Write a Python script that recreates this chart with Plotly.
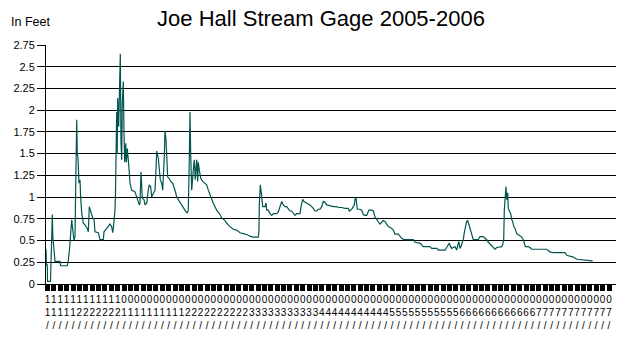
import plotly.graph_objects as go
import datetime as dt

# Reading number (category position along the axis) and gage height in feet
reading = [0, 0.25, 0.65, 0.75, 2.25, 2.4, 2.85, 3.15, 3.4, 3.75, 4.5, 7.0, 7.25, 10.65, 11.15, 11.75,
           12.25, 12.85, 13.25, 14.0, 14.5, 15.0, 15.35, 15.65, 16.0, 16.5, 17.0, 17.35, 17.85, 18.65,
           19.5, 20.65, 21.15, 21.65, 22.5, 23.35, 24.0, 24.5, 26.15, 27.0, 28.65, 29.0, 30.35, 32.0,
           32.85, 33.35, 33.65, 34.5, 34.75, 35.0, 35.35, 35.6, 35.85, 36.35, 36.65, 37.15, 37.5, 37.85,
           38.15, 38.65, 39.0, 39.35, 39.85, 40.15, 40.65, 41.15, 41.5, 42.0, 42.85, 44.5, 45.35, 46.65,
           47.0, 47.5, 48.15, 49.0, 49.5, 50.35, 51.15, 51.65, 52.35, 52.85, 53.65, 54.5, 55.0, 55.35,
           56.15, 56.65, 57.15, 57.85, 58.35, 59.15, 59.5, 60.0, 60.35, 60.85, 61.65, 62.35, 63.35, 64.0,
           64.85, 65.35, 66.65, 67.85, 69.0, 70.0, 70.65, 71.15, 71.65, 72.0, 72.35, 72.85, 73.65, 74.15,
           74.65, 75.35, 75.85, 76.15, 76.65, 77.35, 78.35, 79.5, 80.35, 81.15, 82.0, 82.85, 83.65, 84.5,
           85.35, 87.0, 87.85, 89.5, 90.35, 92.0, 93.65, 95.35, 97.0, 98.65, 100.35, 102.0, 103.65,
           106.15, 106.5, 106.65, 107.15, 107.65, 108.0, 108.35, 109.5, 110.0, 110.35, 111.15, 112.0,
           112.85, 113.65, 115.35, 116.15, 117.0, 117.85, 118.65, 119.5, 120.35, 121.15, 122.0, 122.85,
           123.65, 124.5, 125.35, 127.0, 127.5, 128.35, 129.0, 130.35, 132.0, 133.65, 134.5, 135.35,
           136.15, 137.0, 137.85, 138.65, 139.5, 140.35, 142.0, 143.65, 145.35, 146.15, 147.85, 149.5,
           151.15, 151.65, 152.35, 153.15, 154.15, 154.5, 155.0, 155.35, 155.65, 157.0, 157.85, 158.65,
           159.5, 160.35, 161.5, 162.85, 163.65, 164.5, 165.35, 166.15, 167.0, 167.5, 168.15, 168.65,
           169.5, 170.35, 171.15, 172.0, 172.85, 173.65, 174.5, 176.15, 177.0, 177.85, 179.0, 183.65,
           184.5, 187.0, 188.65, 192.0, 192.85, 195.35, 196.15, 199.5, 200.35, 201.15, 201.65, 202.35,
           202.85, 203.65, 204.5, 205.35, 205.85, 206.35, 207.0, 207.5, 208.0, 208.65, 209.15, 209.65,
           210.35, 210.85, 211.35, 212.0, 212.85, 213.65, 216.15, 217.0, 218.65, 219.5, 220.35, 221.15,
           222.0, 222.85, 223.65, 224.5, 225.35, 227.85, 228.35, 228.85, 229.15, 229.65, 230.0, 230.35,
           230.85, 231.15, 231.65, 232.35, 232.85, 233.35, 233.65, 234.5, 235.35, 236.15, 237.0, 237.85,
           238.65, 239.15, 239.65, 241.15, 242.0, 242.85, 250.35, 251.15, 252.0, 253.65, 259.5, 260.35,
           262.85, 263.65, 265.35, 267.85, 269.5, 271.15, 273.35]

stage_ft = [0.40, 0.22, 0.22, 0.03, 0.03, 0.22, 0.50, 0.80, 0.55, 0.45, 0.26, 0.26, 0.21, 0.21, 0.27, 0.40,
            0.60, 0.74, 0.65, 0.50, 0.55, 1.20, 1.89, 1.50, 1.45, 1.16, 1.20, 0.99, 0.82, 0.70,
            0.68, 0.64, 0.60, 0.89, 0.83, 0.76, 0.75, 0.60, 0.59, 0.51, 0.51, 0.60, 0.64, 0.69,
            0.66, 0.59, 0.64, 0.85, 1.06, 1.58, 1.98, 1.50, 2.14, 1.81, 2.19, 2.65, 1.62, 1.43,
            2.08, 2.33, 1.74, 1.40, 1.62, 1.40, 1.56, 1.35, 1.33, 1.16, 1.08, 1.06, 1.00, 0.91,
            0.93, 1.29, 0.99, 0.97, 0.91, 0.93, 1.08, 1.14, 1.12, 1.00, 1.04, 1.08, 1.31, 1.53,
            1.45, 1.31, 1.20, 1.16, 1.08, 1.46, 1.76, 1.66, 1.50, 1.23, 1.21, 1.18, 1.16, 1.12,
            1.05, 1.00, 0.95, 0.91, 0.87, 0.83, 0.82, 0.85, 1.43, 1.98, 1.50, 1.08, 1.31, 1.43,
            1.20, 1.43, 1.18, 1.40, 1.31, 1.22, 1.18, 1.16, 1.14, 1.08, 1.02, 0.97, 0.93, 0.89,
            0.85, 0.80, 0.76, 0.73, 0.70, 0.66, 0.63, 0.62, 0.59, 0.58, 0.57, 0.55, 0.54,
            0.54, 0.62, 0.91, 1.14, 1.05, 0.91, 0.89, 0.89, 0.93, 0.85, 0.85, 0.81,
            0.79, 0.81, 0.81, 0.83, 0.89, 0.95, 0.91, 0.89, 0.89, 0.86, 0.84, 0.84,
            0.81, 0.79, 0.81, 0.81, 0.89, 0.975, 0.95, 0.93, 0.91, 0.87, 0.84, 0.84,
            0.86, 0.86, 0.89, 0.95, 0.94, 0.91, 0.90, 0.89, 0.89, 0.88, 0.88, 0.87,
            0.87, 0.84, 0.85, 0.87, 0.91, 0.975, 0.99, 0.91, 0.86, 0.86, 0.85, 0.80,
            0.79, 0.79, 0.85, 0.85, 0.84, 0.77, 0.74, 0.72, 0.69, 0.70, 0.72, 0.73,
            0.72, 0.69, 0.66, 0.65, 0.64, 0.62, 0.575, 0.575, 0.55, 0.525, 0.51, 0.51,
            0.48, 0.47, 0.43, 0.43, 0.41, 0.41, 0.39, 0.39, 0.42, 0.45, 0.47, 0.43,
            0.41, 0.42, 0.43, 0.39, 0.43, 0.49, 0.41, 0.43, 0.47, 0.51, 0.59, 0.66,
            0.72, 0.73, 0.69, 0.66, 0.60, 0.51, 0.51, 0.545, 0.545, 0.53, 0.51, 0.48,
            0.46, 0.45, 0.43, 0.40, 0.42, 0.43, 0.45, 0.51, 0.85, 0.97, 1.12, 0.97,
            1.05, 0.87, 0.85, 0.81, 0.74, 0.72, 0.68, 0.64, 0.58, 0.565, 0.545, 0.54,
            0.51, 0.48, 0.43, 0.43, 0.42, 0.40, 0.40, 0.385, 0.37, 0.36, 0.36, 0.33,
            0.32, 0.31, 0.285, 0.28, 0.27, 0.265, 0.265]

# Category labels: number of labelled dates per month (Nov 2005 - Jul 2006)
label_months = [(2005, 11), (2005, 12), (2006, 1), (2006, 2), (2006, 3),
                (2006, 4), (2006, 5), (2006, 6), (2006, 7)]
labels_per_month = [5, 7, 10, 10, 11, 11, 11, 12, 12]
first_day = [16, 1, 1, 1, 1, 1, 1, 1, 1]

y_ticks = [0, 0.25, 0.5, 0.75, 1, 1.25, 1.5, 1.75, 2, 2.25, 2.5, 2.75]
y_tick_text = ["0", "0.25", "0.5", "0.75", "1", "1.25", "1.5", "1.75", "2", "2.25", "2.5", "2.75"]

tick_dates = []
for (yr, mo), n, d0 in zip(label_months, labels_per_month, first_day):
    span = 28 - d0
    for i in range(n):
        day = d0 + int(round(i * span / max(n - 1, 1)))
        tick_dates.append(dt.date(yr, mo, day).strftime("%m/%d/%y"))

n_ticks = len(tick_dates)
x_max = 285
t_first, t_last = 0.75, 281.5
tick_vals = [t_first + i * (t_last - t_first) / (n_ticks - 1) for i in range(n_ticks)]
# The stacked (vertical) labels only have room for their first three characters
tick_text = ["<br>".join(list(s[:3])) for s in tick_dates]

FONT = "Liberation Sans, Arial, sans-serif"

fig = go.Figure(go.Scatter(x=reading, y=stage_ft, mode="lines",
                           line=dict(color="#00554F", width=1.2), showlegend=False,
                           hoverinfo="skip"))

fig.update_layout(
    width=617, height=337,
    margin=dict(l=46, r=1, t=45, b=53),
    paper_bgcolor="white", plot_bgcolor="white",
    font=dict(family=FONT, color="black"),
    title=dict(text="Joe Hall Stream Gage 2005-2006", x=321 / 617, xanchor="center",
               y=1 - 18 / 337, yanchor="middle", yref="container",
               font=dict(size=22, family=FONT, color="black")),
    annotations=[dict(text="In Feet", xref="paper", yref="paper",
                      x=(9 - 46) / 570, y=(284 - 22) / 239, xanchor="left", yanchor="middle",
                      showarrow=False, font=dict(size=12.5, family=FONT, color="black"))],
)

fig.update_xaxes(range=[0, x_max], tickmode="array", tickvals=tick_vals, ticktext=tick_text,
                 tickangle=0, ticks="outside", ticklen=6, tickwidth=5, tickcolor="black",
                 showline=True, linecolor="black", linewidth=1, showgrid=False, zeroline=False,
                 tickfont=dict(size=10, family=FONT, color="black"), automargin=False)
fig.update_yaxes(range=[0, 2.75], tickmode="array", tickvals=y_ticks, ticktext=y_tick_text,
                 ticks="outside", ticklen=8, tickwidth=1, tickcolor="black",
                 showline=True, linecolor="black", linewidth=1,
                 showgrid=True, gridcolor="black", gridwidth=1.3, zeroline=False,
                 tickfont=dict(size=11, family=FONT, color="black"), automargin=False)

fig.write_html("out.html")
